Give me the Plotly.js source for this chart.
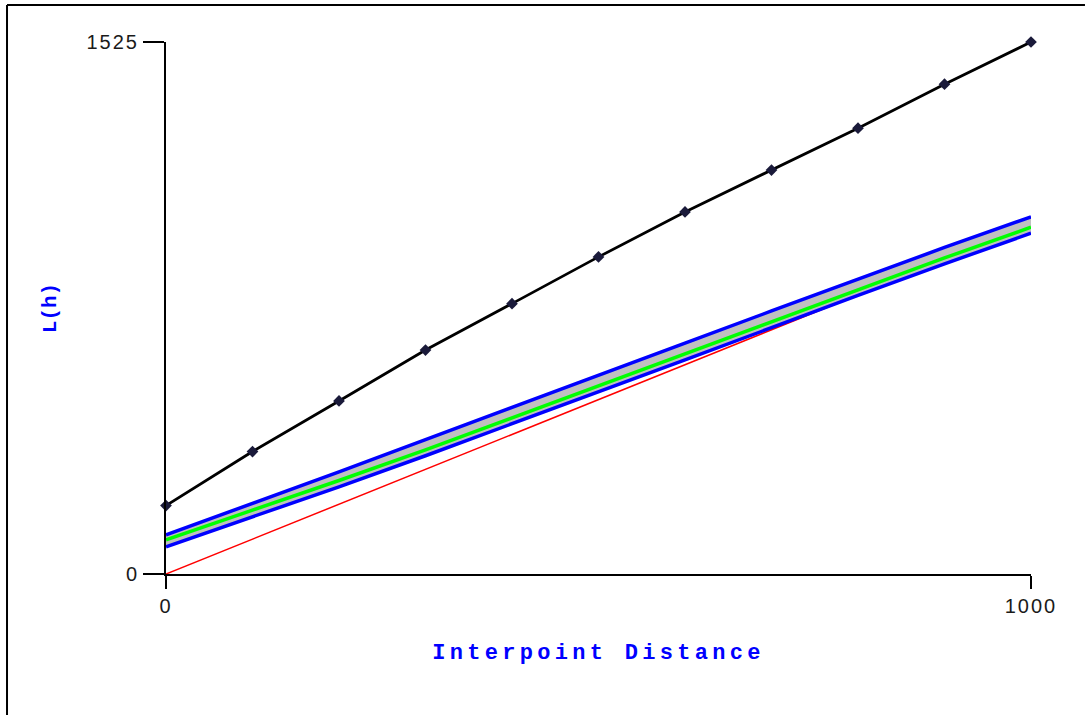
<!DOCTYPE html>
<html>
<head>
<meta charset="utf-8">
<script src="https://cdn.plot.ly/plotly-3.0.1.min.js"></script>
<style>
  html, body { margin: 0; padding: 0; background: #ffffff; }
  #chart { width: 1085px; height: 715px; }
  .xtitle { letter-spacing: 4.3px; }
  .xtick text, .ytick text { letter-spacing: 2px; }
</style>
</head>
<body>
<div id="chart"></div>
<script>
// ---- data ----
const distance = [0, 100, 200, 300, 400, 500, 600, 700, 800, 900, 1000];
const observedL = [196, 351, 496, 642, 775, 909, 1038, 1158, 1278, 1404, 1525];
const envelopeUpper = [112, 202, 293, 385, 478, 570, 662, 754, 846, 936, 1024];
const envelopeMean = [98, 182, 268, 356, 448, 540, 632, 724, 816, 906, 994];
const envelopeLower = [78, 163, 250, 339, 430, 522, 614, 706, 799, 889, 977];
const theoreticalL = [0, 100, 200, 300, 400, 500, 600, 700, 800, 900, 1000];

const xTickVals = [0, 1000];
const xTickText = ['0', '1000'];
const yTickVals = [0, 1525];
const yTickText = ['0', '1525'];
const xTitle = 'Interpoint Distance';
const yTitle = 'L(h)';

const traces = [
  {
    x: distance, y: theoreticalL, type: 'scatter', mode: 'lines',
    line: { color: '#ff0000', width: 1.5 }
  },
  {
    x: distance, y: envelopeLower, type: 'scatter', mode: 'lines',
    line: { color: '#0000ff', width: 3.5 }
  },
  {
    x: distance, y: envelopeUpper, type: 'scatter', mode: 'lines',
    fill: 'tonexty', fillcolor: '#c0c0c0',
    line: { color: '#0000ff', width: 3.5 }
  },
  {
    x: distance, y: envelopeMean, type: 'scatter', mode: 'lines',
    line: { color: '#00ff00', width: 3.5 }
  },
  {
    x: distance, y: observedL, type: 'scatter', mode: 'lines+markers',
    cliponaxis: false,
    line: { color: '#000000', width: 2.8 },
    marker: { symbol: 'diamond', size: 9, color: '#1a1a3a' }
  }
];

const layout = {
  width: 1085, height: 715,
  margin: { l: 166, r: 54, t: 42, b: 141, pad: 0 },
  paper_bgcolor: '#ffffff', plot_bgcolor: '#ffffff',
  showlegend: false,
  xaxis: {
    range: [0, 1000], showgrid: false, zeroline: false,
    showline: true, linecolor: '#000000', linewidth: 2,
    ticks: 'outside', ticklen: 13, tickwidth: 2, tickcolor: '#000000',
    tickvals: xTickVals, ticktext: xTickText,
    tickfont: { family: 'Liberation Sans, Arial, sans-serif', size: 20, color: '#1a1a1a' },
    title: { text: xTitle, standoff: 28,
      font: { family: 'Liberation Mono, Courier New, monospace', size: 22, color: '#0000ff', weight: 'bold' } }
  },
  yaxis: {
    range: [0, 1525], showgrid: false, zeroline: false,
    showline: true, linecolor: '#000000', linewidth: 2,
    ticks: 'outside', ticklen: 21, tickwidth: 2, tickcolor: '#000000',
    tickvals: yTickVals, ticktext: yTickText,
    tickfont: { family: 'Liberation Sans, Arial, sans-serif', size: 20, color: '#1a1a1a' },
    title: { text: yTitle, standoff: 24,
      font: { family: 'Liberation Mono, Courier New, monospace', size: 21, color: '#0000ff', weight: 'bold' } }
  },
  shapes: [
    { type: 'line', xref: 'paper', yref: 'paper', x0: -0.1838, x1: 1.0624, y0: 1.0695, y1: 1.0695,
      line: { color: '#000000', width: 2 } },
    { type: 'line', xref: 'paper', yref: 'paper', x0: -0.1838, x1: -0.1838, y0: 1.0695, y1: -0.265,
      line: { color: '#000000', width: 2 } }
  ]
};

Plotly.newPlot('chart', traces, layout, { staticPlot: true, displayModeBar: false });
</script>
</body>
</html>
